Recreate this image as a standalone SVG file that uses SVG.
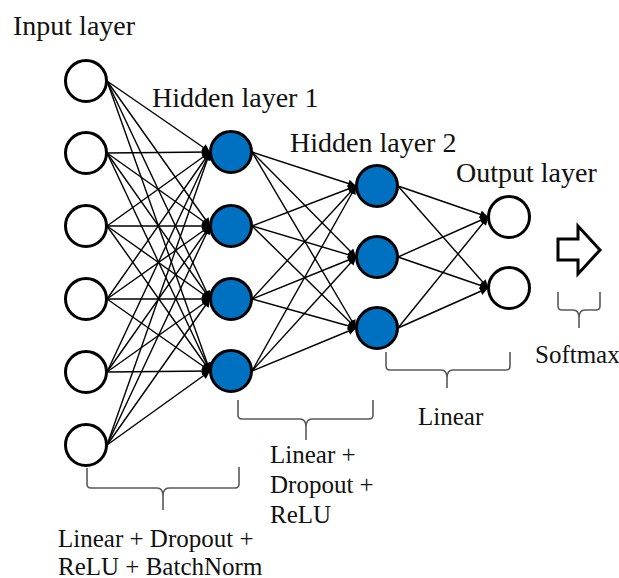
<svg xmlns="http://www.w3.org/2000/svg" width="619" height="578" viewBox="0 0 619 578">
<style>
.lbl{font-family:"Liberation Serif","Times New Roman",serif;font-size:28px;fill:#111}
.ann{font-family:"Liberation Serif","Times New Roman",serif;font-size:25px;fill:#111}
.in{fill:#fff;stroke:#000;stroke-width:3}
.hid{fill:#0070C0;stroke:#000;stroke-width:3}
.c{stroke:#000;stroke-width:1.4;fill:none;marker-end:url(#ah)}
.br{stroke:#595959;stroke-width:1.6;fill:none}
</style>
<defs>
<marker id="ah" markerUnits="userSpaceOnUse" markerWidth="9" markerHeight="8" viewBox="0 0 10 10" refX="10" refY="5" orient="auto">
<path d="M0,0 L10,5 L0,10 z" fill="#000"/>
</marker>
</defs>
<rect width="619" height="578" fill="#fff"/>
<g id="connectors">
<line class="c" x1="107" y1="81" x2="210" y2="152"/><line class="c" x1="107" y1="81" x2="210" y2="226"/><line class="c" x1="107" y1="81" x2="210" y2="299"/><line class="c" x1="107" y1="81" x2="210" y2="371"/>
<line class="c" x1="107" y1="153" x2="210" y2="152"/><line class="c" x1="107" y1="153" x2="210" y2="226"/><line class="c" x1="107" y1="153" x2="210" y2="299"/><line class="c" x1="107" y1="153" x2="210" y2="371"/>
<line class="c" x1="107" y1="226" x2="210" y2="152"/><line class="c" x1="107" y1="226" x2="210" y2="226"/><line class="c" x1="107" y1="226" x2="210" y2="299"/><line class="c" x1="107" y1="226" x2="210" y2="371"/>
<line class="c" x1="107" y1="299" x2="210" y2="152"/><line class="c" x1="107" y1="299" x2="210" y2="226"/><line class="c" x1="107" y1="299" x2="210" y2="299"/><line class="c" x1="107" y1="299" x2="210" y2="371"/>
<line class="c" x1="107" y1="372" x2="210" y2="152"/><line class="c" x1="107" y1="372" x2="210" y2="226"/><line class="c" x1="107" y1="372" x2="210" y2="299"/><line class="c" x1="107" y1="372" x2="210" y2="371"/>
<line class="c" x1="107" y1="445" x2="210" y2="152"/><line class="c" x1="107" y1="445" x2="210" y2="226"/><line class="c" x1="107" y1="445" x2="210" y2="299"/><line class="c" x1="107" y1="445" x2="210" y2="371"/>
<line class="c" x1="252" y1="152" x2="356" y2="186"/><line class="c" x1="252" y1="152" x2="356" y2="257"/><line class="c" x1="252" y1="152" x2="356" y2="328"/>
<line class="c" x1="252" y1="226" x2="356" y2="186"/><line class="c" x1="252" y1="226" x2="356" y2="257"/><line class="c" x1="252" y1="226" x2="356" y2="328"/>
<line class="c" x1="252" y1="299" x2="356" y2="186"/><line class="c" x1="252" y1="299" x2="356" y2="257"/><line class="c" x1="252" y1="299" x2="356" y2="328"/>
<line class="c" x1="252" y1="371" x2="356" y2="186"/><line class="c" x1="252" y1="371" x2="356" y2="257"/><line class="c" x1="252" y1="371" x2="356" y2="328"/>
<line class="c" x1="398" y1="186" x2="488" y2="217"/><line class="c" x1="398" y1="186" x2="488" y2="288"/>
<line class="c" x1="398" y1="257" x2="488" y2="217"/><line class="c" x1="398" y1="257" x2="488" y2="288"/>
<line class="c" x1="398" y1="328" x2="488" y2="217"/><line class="c" x1="398" y1="328" x2="488" y2="288"/>
</g>
<g id="input-layer">
<text class="lbl" x="13" y="35">Input layer</text>
<circle class="in" cx="86" cy="81" r="20.5"/><circle class="in" cx="86" cy="153" r="20.5"/><circle class="in" cx="86" cy="226" r="20.5"/><circle class="in" cx="86" cy="299" r="20.5"/><circle class="in" cx="86" cy="372" r="20.5"/><circle class="in" cx="86" cy="445" r="20.5"/>
</g>
<g id="hidden-layer-1">
<text class="lbl" x="152" y="107">Hidden layer 1</text>
<circle class="hid" cx="231" cy="152" r="20.5"/><circle class="hid" cx="231" cy="226" r="20.5"/><circle class="hid" cx="231" cy="299" r="20.5"/><circle class="hid" cx="231" cy="371" r="20.5"/>
</g>
<g id="hidden-layer-2">
<text class="lbl" x="290" y="152">Hidden layer 2</text>
<circle class="hid" cx="377" cy="186" r="20.5"/><circle class="hid" cx="377" cy="257" r="20.5"/><circle class="hid" cx="377" cy="328" r="20.5"/>
</g>
<g id="output-layer">
<text class="lbl" x="456" y="182">Output layer</text>
<circle class="in" cx="509" cy="217" r="20.5"/><circle class="in" cx="509" cy="288" r="20.5"/>
</g>
<g id="softmax-arrow">
<polygon points="558,239 578,239 578,226 600,250 578,274 578,260 558,260" fill="#fff" stroke="#000" stroke-width="3" stroke-linejoin="miter"/>
</g>
<g id="bracket-1">
<path class="br" d="M87,468 V484 Q87,488 91,488 H157 Q163,488 163,496 V510 M163,496 Q163,488 169,488 H235 Q239,488 239,484 V467"/>
<text class="ann" x="58" y="547">Linear + Dropout +</text>
<text class="ann" x="58" y="575">ReLU + BatchNorm</text>
</g>
<g id="bracket-2">
<path class="br" d="M238,400 V415 Q238,419 242,419 H300 Q306,419 306,427 V440 M306,427 Q306,419 312,419 H369 Q373,419 373,415 V400"/>
<text class="ann" x="270" y="463">Linear +</text>
<text class="ann" x="270" y="493">Dropout +</text>
<text class="ann" x="270" y="523">ReLU</text>
</g>
<g id="bracket-3">
<path class="br" d="M386,352 V366 Q386,370 390,370 H441 Q447,370 447,378 V388 M447,378 Q447,370 453,370 H506 Q510,370 510,366 V352"/>
<text class="ann" x="418" y="425">Linear</text>
</g>
<g id="bracket-4">
<path class="br" d="M558,292 V306 Q558,310 562,310 H573 Q579,310 579,318 V328 M579,318 Q579,310 585,310 H596 Q600,310 600,306 V292"/>
<text class="ann" x="535" y="363">Softmax</text>
</g>
</svg>
